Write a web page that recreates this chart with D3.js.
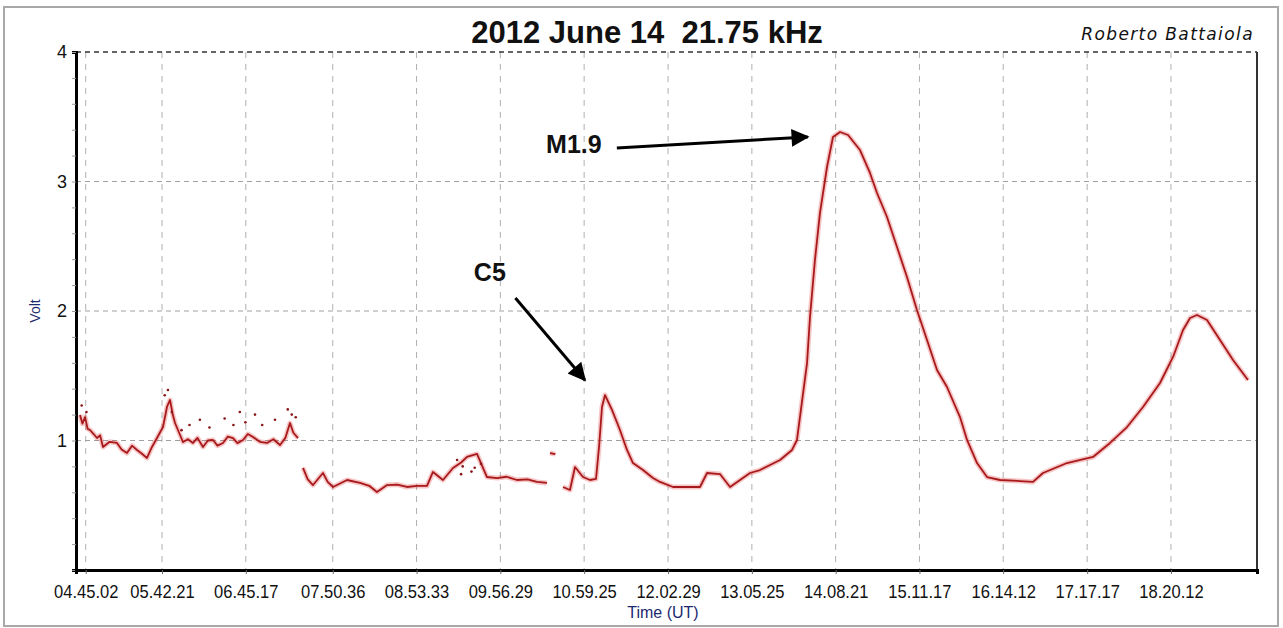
<!DOCTYPE html>
<html>
<head>
<meta charset="utf-8">
<script src="https://cdn.jsdelivr.net/npm/d3@7"></script>
<style>
  body { margin: 0; background: #fff; }
  svg { display: block; }
</style>
</head>
<body>
<svg id="chart" width="1283" height="628"></svg>
<script>
// tick labels on the time axis and their times in decimal hours
const tickLabels = ["04.45.02", "05.42.21", "06.45.17", "07.50.36", "08.53.33", "09.56.29", "10.59.25",
	"12.02.29", "13.05.25", "14.08.21", "15.11.17", "16.14.12", "17.17.17", "18.20.12"];
const tickHours = tickLabels.map(s => { const p = s.split(".").map(Number); return p[0] + p[1] / 60 + p[2] / 3600; });
const voltTicks = [1, 2, 3, 4];

// trace, [hour, volt]; null marks a gap in the recording
const trace = [
	[4.679, 1.197], [4.710, 1.130], [4.742, 1.181], [4.775, 1.090], [4.804, 1.081], [4.850, 1.050],
	[4.892, 1.019], [4.930, 1.040], [4.967, 0.950], [5.050, 0.990], [5.142, 0.981], [5.200, 0.930],
	[5.267, 0.903], [5.330, 0.960], [5.393, 0.927], [5.450, 0.900], [5.518, 0.865], [5.580, 0.950],
	[5.643, 1.019], [5.718, 1.104], [5.768, 1.259], [5.806, 1.313], [5.840, 1.200], [5.869, 1.135],
	[5.920, 1.060], [5.969, 0.988], [6.030, 1.010], [6.094, 0.981], [6.150, 1.020], [6.219, 0.950],
	[6.280, 1.000], [6.344, 1.004], [6.400, 0.960], [6.469, 0.981], [6.530, 1.030], [6.595, 1.019],
	[6.650, 0.980], [6.720, 1.004], [6.780, 1.050], [6.845, 1.027], [6.930, 0.990], [7.020, 0.981],
	[7.100, 1.010], [7.183, 0.965], [7.250, 1.020], [7.308, 1.135], [7.350, 1.060], [7.408, 1.019], null,
	[7.471, 0.788], [7.530, 0.700], [7.596, 0.656], [7.721, 0.749], [7.780, 0.680], [7.847, 0.641],
	[8.022, 0.695], [8.185, 0.672], [8.300, 0.650], [8.397, 0.602], [8.523, 0.656], [8.650, 0.660],
	[8.773, 0.641], [8.900, 0.650], [9.023, 0.649], [9.098, 0.757], [9.223, 0.695], [9.349, 0.788],
	[9.450, 0.830], [9.524, 0.873], [9.649, 0.896], [9.774, 0.718], [9.899, 0.710], [10.020, 0.720],
	[10.150, 0.695], [10.280, 0.700], [10.400, 0.680], [10.525, 0.672], null,
	[10.563, 0.903], [10.630, 0.895], null,
	[10.726, 0.641], [10.813, 0.618], [10.876, 0.795], [10.976, 0.718], [11.064, 0.695], [11.139, 0.703],
	[11.177, 0.950], [11.214, 1.259], [11.252, 1.351], [11.339, 1.236], [11.439, 1.081], [11.527, 0.927],
	[11.602, 0.826], [11.727, 0.772], [11.852, 0.710], [11.940, 0.680], [12.103, 0.641], [12.316, 0.641],
	[12.441, 0.641], [12.529, 0.749], [12.691, 0.741], [12.817, 0.641], [12.942, 0.695], [13.067, 0.749],
	[13.192, 0.772], [13.443, 0.849], [13.593, 0.927], [13.655, 1.004], [13.781, 1.598], [13.818, 1.954],
	[13.880, 2.394], [13.943, 2.757], [14.031, 3.112], [14.106, 3.344], [14.194, 3.382], [14.294, 3.359],
	[14.444, 3.243], [14.569, 3.066], [14.657, 2.911], [14.782, 2.726], [14.907, 2.494], [15.032, 2.263],
	[15.157, 2.008], [15.283, 1.776], [15.408, 1.544], [15.533, 1.413], [15.696, 1.181], [15.784, 1.004],
	[15.909, 0.826], [16.034, 0.718], [16.197, 0.695], [16.447, 0.687], [16.610, 0.680], [16.735, 0.749],
	[17.035, 0.826], [17.361, 0.873], [17.574, 0.981], [17.787, 1.104], [17.987, 1.259], [18.200, 1.444],
	[18.363, 1.645], [18.488, 1.853], [18.576, 1.946], [18.663, 1.969], [18.788, 1.931], [18.951, 1.776],
	[19.114, 1.622], [19.301, 1.467]
];

// stray samples around the noisy morning band
const strays = [
	[4.70, 1.27], [4.76, 1.22], [5.74, 1.35], [5.78, 1.39], [5.83, 1.22], [6.18, 1.16], [6.49, 1.17],
	[6.68, 1.22], [6.87, 1.20], [6.96, 1.12], [7.12, 1.16], [7.28, 1.24], [7.33, 1.20], [6.30, 1.10],
	[6.05, 1.12], [6.60, 1.12], [6.75, 1.14], [5.95, 1.08], [7.38, 1.18],
	[9.40, 0.85], [9.47, 0.80], [9.58, 0.76], [9.62, 0.79], [9.70, 0.82], [9.45, 0.74]
];

// annotations: label, text position, arrow tail, arrow tip (hour, volt)
const notes = [
	{label: "M1.9", text: [11.21, 3.22], from: [11.40, 3.259], to: [13.79, 3.344]},
	{label: "C5", text: [9.61, 2.23], from: [10.13, 2.100], to: [11.00, 1.467]}
];

const title = "2012 June 14  21.75 kHz";
const author = "Roberto Battaiola";

const svg = d3.select("#chart");
const margin = {left: 76, right: 26, top: 52, bottom: 58};
const W = 1283, H = 628;

const x = d3.scaleLinear().domain([4.629, 19.414]).range([margin.left, W - margin.right]);
const y = d3.scaleLinear().domain([0, 4]).range([H - margin.bottom, margin.top]);

// outer frame
svg.append("rect").attr("x", 4).attr("y", 7).attr("width", 1274).attr("height", 619)
	.attr("fill", "#fff").attr("stroke", "#a8a8a8").attr("stroke-width", 2);

// vertical grid
svg.append("g").selectAll("line").data(tickHours).join("line")
	.attr("x1", d => x(d)).attr("x2", d => x(d))
	.attr("y1", y(4)).attr("y2", y(0))
	.attr("stroke", "#b0b0b0").attr("stroke-dasharray", "6,6");

// horizontal grid
svg.append("g").selectAll("line").data(voltTicks).join("line")
	.attr("x1", x.range()[0]).attr("x2", x.range()[1])
	.attr("y1", d => y(d)).attr("y2", d => y(d))
	.attr("stroke", d => d === 4 ? "#333" : "#a0a0a0")
	.attr("stroke-width", d => d === 4 ? 1.5 : 1)
	.attr("stroke-dasharray", "5,4");

// right border
svg.append("line").attr("x1", x.range()[1]).attr("x2", x.range()[1])
	.attr("y1", y(4)).attr("y2", y(0)).attr("stroke", "#333").attr("stroke-width", 2);

// y axis
const yAxis = svg.append("g").attr("transform", `translate(${margin.left},0)`)
	.call(d3.axisLeft(y).tickValues(d3.range(0, 4.01, 0.2)).tickSize(4).tickFormat(""));
yAxis.select(".domain").attr("stroke", "#000").attr("stroke-width", 3);
yAxis.selectAll(".tick line").attr("stroke", "#999");
yAxis.append("g").selectAll("text").data(voltTicks).join("text")
	.attr("x", -9).attr("y", d => y(d) + 6)
	.attr("text-anchor", "end").attr("fill", "#111")
	.style("font", "18px 'Liberation Sans', Arial, sans-serif")
	.text(d => d);

// x axis
const xAxis = svg.append("g").attr("transform", `translate(0,${y(0)})`)
	.call(d3.axisBottom(x).tickValues(tickHours).tickSize(4).tickFormat((d, i) => tickLabels[i]));
xAxis.select(".domain").attr("stroke", "#000").attr("stroke-width", 3);
xAxis.selectAll(".tick line").attr("stroke", "#666");
xAxis.selectAll(".tick text").attr("fill", "#111").attr("dy", "1.15em")
	.style("font", "18px 'Liberation Sans Narrow', 'Liberation Sans', Arial, sans-serif")
	.attr("transform", "scale(0.92,1)");

// axis titles
svg.append("text").attr("x", 663).attr("y", 618).attr("text-anchor", "middle")
	.attr("fill", "#1c2a6e").style("font", "16px 'Liberation Sans', Arial, sans-serif")
	.text("Time (UT)");
svg.append("text").attr("transform", `translate(40,${y(2)}) rotate(-90)`).attr("text-anchor", "middle")
	.attr("fill", "#1c2a6e").style("font", "14px 'Liberation Sans', Arial, sans-serif")
	.text("Volt");

// trace
const line = d3.line().defined(d => d !== null).x(d => x(d[0])).y(d => y(d[1]));
svg.append("path").datum(trace).attr("d", line)
	.attr("fill", "none").attr("stroke", "#e04040").attr("stroke-opacity", 0.3)
	.attr("stroke-width", 5).attr("stroke-linejoin", "round");
svg.append("path").datum(trace).attr("d", line)
	.attr("fill", "none").attr("stroke", "#a8191c").attr("stroke-width", 1.8)
	.attr("stroke-linejoin", "round");
svg.append("g").selectAll("circle").data(strays).join("circle")
	.attr("cx", d => x(d[0])).attr("cy", d => y(d[1])).attr("r", 1.3)
	.attr("fill", "#8a1518");

// title and author
svg.append("text").attr("x", 647).attr("y", 43).attr("text-anchor", "middle")
	.attr("fill", "#111").style("font", "bold 31px 'Liberation Sans', Arial, sans-serif")
	.style("white-space", "pre").text(title);
svg.append("text").attr("x", 1254).attr("y", 40).attr("text-anchor", "end")
	.attr("fill", "#111").style("font", "italic 17px 'DejaVu Sans', sans-serif")
	.style("letter-spacing", "1.4px").text(author);

// annotation arrows
svg.append("defs").append("marker").attr("id", "head")
	.attr("viewBox", "0 0 10 10").attr("refX", 9).attr("refY", 5)
	.attr("markerWidth", 8).attr("markerHeight", 6).attr("markerUnits", "strokeWidth")
	.attr("orient", "auto")
	.append("path").attr("d", "M0,0L10,5L0,10Z").attr("fill", "#000");

const g = svg.append("g").selectAll("g").data(notes).join("g");
g.append("line")
	.attr("x1", d => x(d.from[0])).attr("y1", d => y(d.from[1]))
	.attr("x2", d => x(d.to[0])).attr("y2", d => y(d.to[1]))
	.attr("stroke", "#000").attr("stroke-width", 3).attr("marker-end", "url(#head)");
g.append("text")
	.attr("x", d => x(d.text[0])).attr("y", d => y(d.text[1]))
	.attr("text-anchor", d => d.label === "C5" ? "start" : "end")
	.attr("fill", "#111").style("font", "bold 25px 'Liberation Sans', Arial, sans-serif")
	.text(d => d.label);
</script>
</body>
</html>
